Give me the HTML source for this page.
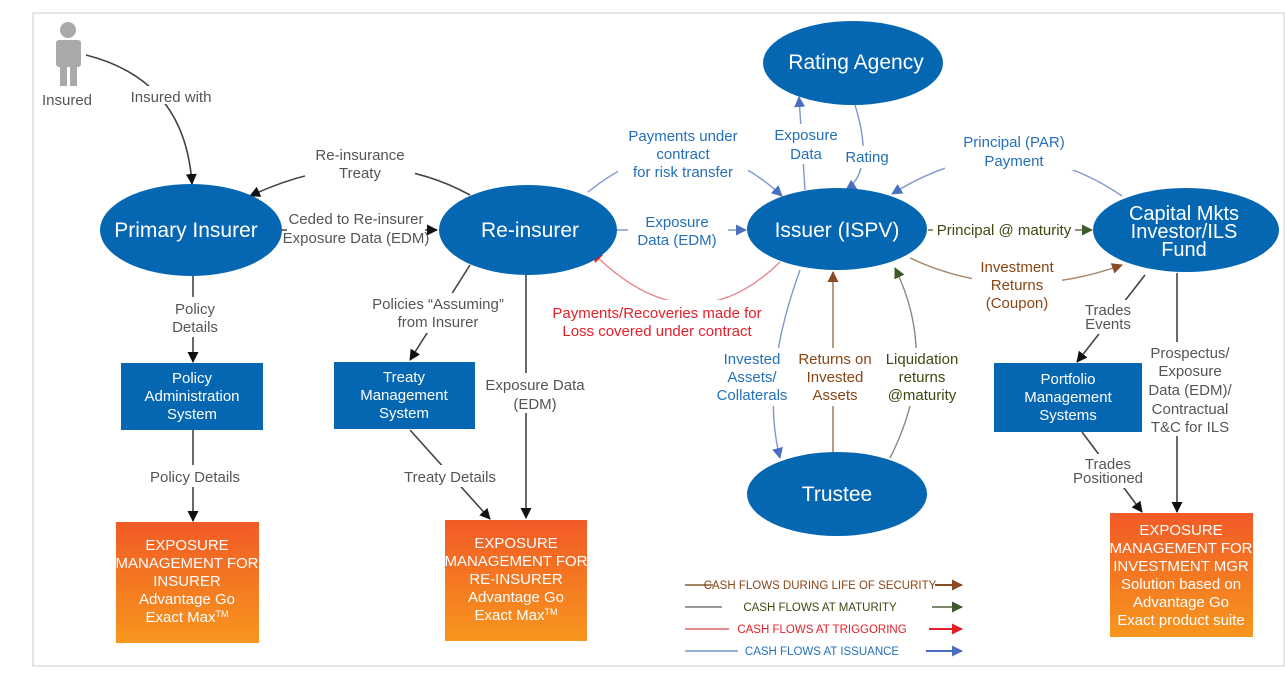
<!DOCTYPE html>
<html><head><meta charset="utf-8"><style>
html,body{margin:0;padding:0;background:#fff;}
svg{display:block;font-family:"Liberation Sans",sans-serif;}
.g{fill:#555;font-size:15px;}
.b{fill:#2470b8;font-size:15px;}
.br{fill:#8a4515;font-size:15px;}
.gr{fill:#3a4a10;font-size:15px;}
.r{fill:#e5202a;font-size:15px;}
</style></head><body>
<svg width="1285" height="673" viewBox="0 0 1285 673" xmlns="http://www.w3.org/2000/svg">
<defs>
<marker id="ak" markerWidth="11" markerHeight="11" refX="10" refY="5.5" orient="auto" markerUnits="userSpaceOnUse"><path d="M0,0L11,5.5L0,11z" fill="#111"/></marker>
<marker id="ab" markerWidth="11" markerHeight="11" refX="10" refY="5.5" orient="auto" markerUnits="userSpaceOnUse"><path d="M0,0L11,5.5L0,11z" fill="#4a6fc0"/></marker>
<marker id="abr" markerWidth="11" markerHeight="11" refX="10" refY="5.5" orient="auto" markerUnits="userSpaceOnUse"><path d="M0,0L11,5.5L0,11z" fill="#8a4a25"/></marker>
<marker id="agr" markerWidth="11" markerHeight="11" refX="10" refY="5.5" orient="auto" markerUnits="userSpaceOnUse"><path d="M0,0L11,5.5L0,11z" fill="#3d5a2a"/></marker>
<marker id="ar" markerWidth="11" markerHeight="11" refX="10" refY="5.5" orient="auto" markerUnits="userSpaceOnUse"><path d="M0,0L11,5.5L0,11z" fill="#e5202a"/></marker>
<linearGradient id="og" x1="0" y1="0" x2="0" y2="1"><stop offset="0" stop-color="#f15a26"/><stop offset="1" stop-color="#f7961e"/></linearGradient>
</defs>
<rect x="33" y="13" width="1251" height="653" fill="#fff" stroke="#ddd" stroke-width="1.5"/>

<g fill="#a9a9a9"><circle cx="68" cy="30" r="8"/><rect x="56" y="40" width="25" height="27" rx="3"/><rect x="60" y="64" width="7" height="22"/><rect x="70" y="64" width="7" height="22"/></g>
<text x="67" y="105" class="g" text-anchor="middle">Insured</text>

<g stroke="#444" stroke-width="1.6" fill="none">
<path d="M86,55 Q185,80 192,184" marker-end="url(#ak)"/>
<path d="M470,195 Q370,140 250,196" marker-end="url(#ak)"/>
<path d="M282,230 L437,230" marker-end="url(#ak)"/>
<path d="M193,276 L193,362" marker-end="url(#ak)"/>
<path d="M193,430 L193,521" marker-end="url(#ak)"/>
<path d="M470,265 L410,360" marker-end="url(#ak)"/>
<path d="M410,430 L490,519" marker-end="url(#ak)"/>
<path d="M526,275 L526,518" marker-end="url(#ak)"/>
<path d="M1145,275 L1077,362" marker-end="url(#ak)"/>
<path d="M1177,273 L1177,512" marker-end="url(#ak)"/>
<path d="M1082,432 L1142,512" marker-end="url(#ak)"/>
</g>
<g stroke="#7f98cc" stroke-width="1.4" fill="none">
<path d="M617,230 L746,230" marker-end="url(#ab)"/>
<path d="M588,192 Q690,110 782,196" marker-end="url(#ab)"/>
<path d="M805,190 L799,97" marker-end="url(#ab)"/>
<path d="M1122,196 Q1010,120 892,194" marker-end="url(#ab)"/>
<path d="M800,270 Q760,380 780,458" marker-end="url(#ab)"/>
</g>
<path d="M855,105 Q875,170 846,190" stroke="#7f98cc" stroke-width="1.4" fill="none" marker-end="url(#ab)"/>
<path d="M780,262 Q690,350 592,252" stroke="#e58a90" stroke-width="1.4" fill="none" marker-end="url(#ar)"/>
<path d="M928,230 L1092,230" stroke="#6b6b4a" stroke-width="1.4" fill="none" marker-end="url(#agr)"/>
<path d="M910,258 Q1010,305 1122,265" stroke="#a58462" stroke-width="1.4" fill="none" marker-end="url(#abr)"/>
<path d="M833,452 L833,272" stroke="#a58462" stroke-width="1.6" fill="none" marker-end="url(#abr)"/>
<path d="M890,458 Q940,360 895,268" stroke="#8a8a7a" stroke-width="1.4" fill="none" marker-end="url(#agr)"/>

<g fill="#fff">
<rect x="122" y="86" width="98" height="18"/>
<rect x="305" y="143" width="110" height="40"/>
<rect x="287" y="208" width="138" height="42"/>
<rect x="160" y="297" width="70" height="40"/>
<rect x="140" y="465" width="108" height="22"/>
<rect x="368" y="293" width="140" height="40"/>
<rect x="400" y="465" width="100" height="22"/>
<rect x="482" y="373" width="106" height="40"/>
<rect x="628" y="212" width="100" height="40"/>
<rect x="618" y="124" width="130" height="58"/>
<rect x="768" y="124" width="76" height="40"/>
<rect x="840" y="146" width="52" height="22"/>
<rect x="945" y="130" width="132" height="40"/>
<rect x="933" y="220" width="142" height="22"/>
<rect x="972" y="255" width="90" height="58"/>
<rect x="548" y="300" width="218" height="40"/>
<rect x="710" y="348" width="80" height="58"/>
<rect x="794" y="348" width="82" height="58"/>
<rect x="880" y="348" width="86" height="58"/>
<rect x="1080" y="300" width="56" height="34"/>
<rect x="1145" y="342" width="90" height="94"/>
<rect x="1068" y="454" width="80" height="34"/>
</g>

<text x="171" y="102" class="g" text-anchor="middle">Insured with</text>
<text x="360" y="160" class="g" text-anchor="middle">Re-insurance</text>
<text x="360" y="178" class="g" text-anchor="middle">Treaty</text>
<text x="356" y="224" class="g" text-anchor="middle">Ceded to Re-insurer</text>
<text x="356" y="243" class="g" text-anchor="middle">Exposure Data (EDM)</text>
<text x="195" y="314" class="g" text-anchor="middle">Policy</text>
<text x="195" y="332" class="g" text-anchor="middle">Details</text>
<text x="195" y="482" class="g" text-anchor="middle">Policy Details</text>
<text x="438" y="309" class="g" text-anchor="middle">Policies “Assuming”</text>
<text x="438" y="327" class="g" text-anchor="middle">from Insurer</text>
<text x="450" y="482" class="g" text-anchor="middle">Treaty Details</text>
<text x="535" y="390" class="g" text-anchor="middle">Exposure Data</text>
<text x="535" y="409" class="g" text-anchor="middle">(EDM)</text>
<text x="677" y="227" class="b" text-anchor="middle">Exposure</text>
<text x="677" y="245" class="b" text-anchor="middle">Data (EDM)</text>
<text x="683" y="141" class="b" text-anchor="middle">Payments under</text>
<text x="683" y="159" class="b" text-anchor="middle">contract</text>
<text x="683" y="177" class="b" text-anchor="middle">for risk transfer</text>
<text x="806" y="140" class="b" text-anchor="middle">Exposure</text>
<text x="806" y="159" class="b" text-anchor="middle">Data</text>
<text x="867" y="162" class="b" text-anchor="middle">Rating</text>
<text x="1014" y="147" class="b" text-anchor="middle">Principal (PAR)</text>
<text x="1014" y="166" class="b" text-anchor="middle">Payment</text>
<text x="1004" y="235" class="gr" text-anchor="middle">Principal @ maturity</text>
<text x="1017" y="272" class="br" text-anchor="middle">Investment</text>
<text x="1017" y="290" class="br" text-anchor="middle">Returns</text>
<text x="1017" y="308" class="br" text-anchor="middle">(Coupon)</text>
<text x="657" y="318" class="r" text-anchor="middle">Payments/Recoveries made for</text>
<text x="657" y="336" class="r" text-anchor="middle">Loss covered under contract</text>
<text x="752" y="364" class="b" text-anchor="middle">Invested</text>
<text x="752" y="382" class="b" text-anchor="middle">Assets/</text>
<text x="752" y="400" class="b" text-anchor="middle">Collaterals</text>
<text x="835" y="364" class="br" text-anchor="middle">Returns on</text>
<text x="835" y="382" class="br" text-anchor="middle">Invested</text>
<text x="835" y="400" class="br" text-anchor="middle">Assets</text>
<text x="922" y="364" class="gr" text-anchor="middle">Liquidation</text>
<text x="922" y="382" class="gr" text-anchor="middle">returns</text>
<text x="922" y="400" class="gr" text-anchor="middle">@maturity</text>
<text x="1108" y="315" class="g" text-anchor="middle">Trades</text>
<text x="1108" y="329" class="g" text-anchor="middle">Events</text>
<text x="1190" y="358" class="g" text-anchor="middle">Prospectus/</text>
<text x="1190" y="376" class="g" text-anchor="middle">Exposure</text>
<text x="1190" y="395" class="g" text-anchor="middle">Data (EDM)/</text>
<text x="1190" y="414" class="g" text-anchor="middle">Contractual</text>
<text x="1190" y="432" class="g" text-anchor="middle">T&amp;C for ILS</text>
<text x="1108" y="469" class="g" text-anchor="middle">Trades</text>
<text x="1108" y="483" class="g" text-anchor="middle">Positioned</text>

<g fill="#0566b2">
<ellipse cx="191" cy="230" rx="91" ry="46"/>
<ellipse cx="528" cy="230" rx="89" ry="45"/>
<ellipse cx="837" cy="229" rx="90" ry="41"/>
<ellipse cx="853" cy="63" rx="90" ry="42"/>
<ellipse cx="1186" cy="230" rx="93" ry="42"/>
<ellipse cx="837" cy="494" rx="90" ry="42"/>
</g>
<g text-anchor="middle" fill="#fff">
<text x="186" y="237" font-size="21">Primary Insurer</text>
<text x="530" y="237" font-size="21">Re-insurer</text>
<text x="837" y="237" font-size="21">Issuer (ISPV)</text>
<text x="856" y="69" font-size="21">Rating Agency</text>
<text x="1184" y="220" font-size="20">Capital Mkts</text>
<text x="1184" y="238" font-size="20">Investor/ILS</text>
<text x="1184" y="256" font-size="20">Fund</text>
<text x="837" y="501" font-size="21">Trustee</text>
</g>

<g fill="#0566b2">
<rect x="121" y="363" width="142" height="67"/>
<rect x="334" y="362" width="141" height="67"/>
<rect x="994" y="363" width="148" height="69"/>
</g>
<g font-size="15" fill="#fff" text-anchor="middle">
<text x="192" y="383">Policy</text><text x="192" y="401">Administration</text><text x="192" y="419">System</text>
<text x="404" y="382">Treaty</text><text x="404" y="400">Management</text><text x="404" y="418">System</text>
<text x="1068" y="384">Portfolio</text><text x="1068" y="402">Management</text><text x="1068" y="420">Systems</text>
</g>

<rect x="116" y="522" width="143" height="121" fill="url(#og)"/>
<rect x="445" y="520" width="142" height="121" fill="url(#og)"/>
<rect x="1110" y="513" width="143" height="124" fill="url(#og)"/>
<g font-size="15" fill="#fff" text-anchor="middle">
<text x="187" y="550">EXPOSURE</text><text x="187" y="568">MANAGEMENT FOR</text><text x="187" y="586">INSURER</text><text x="187" y="604">Advantage Go</text><text x="187" y="622">Exact Max<tspan font-size="9" dy="-5">TM</tspan></text>
<text x="516" y="548">EXPOSURE</text><text x="516" y="566">MANAGEMENT FOR</text><text x="516" y="584">RE-INSURER</text><text x="516" y="602">Advantage Go</text><text x="516" y="620">Exact Max<tspan font-size="9" dy="-5">TM</tspan></text>
<text x="1181" y="535">EXPOSURE</text><text x="1181" y="553">MANAGEMENT FOR</text><text x="1181" y="571">INVESTMENT MGR</text><text x="1181" y="589">Solution based on</text><text x="1181" y="607">Advantage Go</text><text x="1181" y="625">Exact product suite</text>
</g>

<g stroke-width="2" fill="none">
<path d="M685,585 H713" stroke="#a58462"/><path d="M935,585 H962" stroke="#8a4a25" marker-end="url(#abr)"/>
<path d="M685,607 H722" stroke="#999"/><path d="M932,607 H962" stroke="#7a8a6a" marker-end="url(#agr)"/>
<path d="M685,629 H729" stroke="#e58a90"/><path d="M929,629 H962" stroke="#e5202a" marker-end="url(#ar)"/>
<path d="M685,651 H738" stroke="#9ab0d8"/><path d="M926,651 H962" stroke="#4a6fc0" marker-end="url(#ab)"/>
</g>
<g font-size="11.5" text-anchor="middle">
<text x="820" y="589" fill="#8a4515">CASH FLOWS DURING LIFE OF SECURITY</text>
<text x="820" y="611" fill="#3a4a10">CASH FLOWS AT MATURITY</text>
<text x="822" y="633" fill="#e5202a">CASH FLOWS AT TRIGGORING</text>
<text x="822" y="655" fill="#2470b8">CASH FLOWS AT ISSUANCE</text>
</g>
</svg>
</body></html>
